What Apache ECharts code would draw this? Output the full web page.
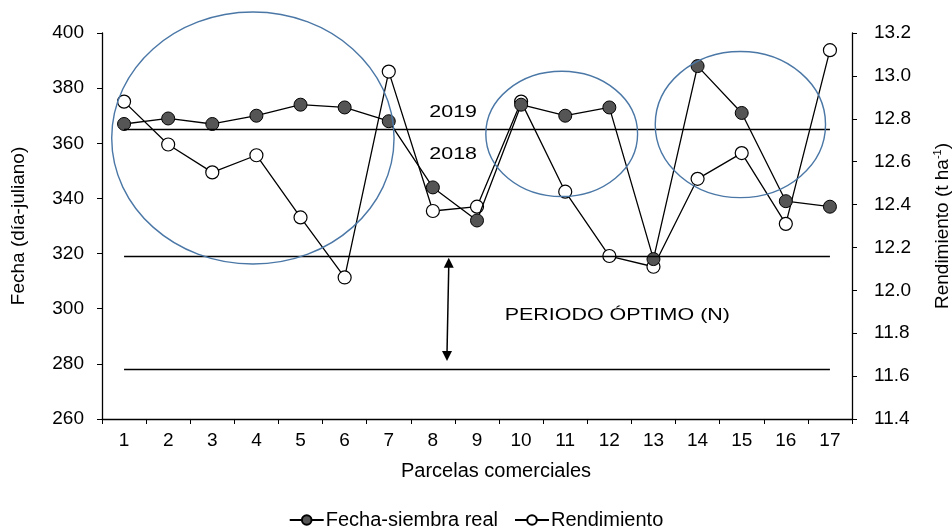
<!DOCTYPE html>
<html>
<head>
<meta charset="utf-8">
<script src="https://cdn.jsdelivr.net/npm/echarts@6/dist/echarts.min.js"></script>
<style>
  html, body { margin: 0; padding: 0; background: #fff; }
  #main { width: 952px; height: 529px; }
</style>
</head>
<body>
<div id="main"></div>
<script>
// datos
const parcelas = ['1', '2', '3', '4', '5', '6', '7', '8', '9', '10', '11', '12', '13', '14', '15', '16', '17'];
const fechaSiembra = [367, 369, 367, 370, 374, 373, 368, 344, 332, 374, 370, 373, 318, 388, 371, 339, 337];
const rendimiento = [12.88, 12.68, 12.55, 12.63, 12.34, 12.06, 13.02, 12.37, 12.39, 12.88, 12.46, 12.16, 12.11, 12.52, 12.64, 12.31, 13.12];
const lineasReferencia = [365, 319, 278];
const etiquetasAnio = ['2019', '2018'];
const textoPeriodo = 'PERIODO ÓPTIMO (N)';

const FONT = 'Liberation Sans, Arial, sans-serif';
const chart = echarts.init(document.getElementById('main'));

const option = {
  animation: false,
  backgroundColor: '#fff',
  textStyle: { fontFamily: FONT, color: '#000' },
  grid: { left: 102, right: 100, top: 33, bottom: 110, containLabel: false, outerBoundsMode: 'none' },
  legend: {
    data: ['Fecha-siembra real', 'Rendimiento'],
    top: 505,
    left: 'center',
    itemWidth: 34,
    itemHeight: 12,
    itemGap: 16,
    textStyle: { fontSize: 20, fontFamily: FONT, color: '#000', padding: [0, 0, 0, -3] }
  },
  xAxis: [
    {
      type: 'category',
      data: parcelas,
      boundaryGap: true,
      name: 'Parcelas comerciales',
      nameLocation: 'middle',
      nameGap: 42,
      nameTextStyle: { fontSize: 20, fontFamily: FONT, color: '#000', padding: [0, 0, 0, 38] },
      axisLine: { lineStyle: { color: '#000', width: 1.3 } },
      axisTick: { show: true, length: 5, inside: false, lineStyle: { color: '#000' } },
      axisLabel: { fontSize: 19, fontFamily: FONT, color: '#000', margin: 12 },
      splitLine: { show: false }
    },
    {
      type: 'value',
      min: 0.5,
      max: 17.5,
      show: false
    }
  ],
  yAxis: [
    {
      type: 'value',
      min: 260,
      max: 400,
      interval: 20,
      position: 'left',
      name: 'Fecha (día-juliano)',
      nameLocation: 'middle',
      nameGap: 74,
      nameTextStyle: { fontSize: 19, fontFamily: FONT, color: '#000' },
      axisLine: { show: true, lineStyle: { color: '#000', width: 1.3 } },
      axisTick: { show: true, length: 5, lineStyle: { color: '#000' } },
      axisLabel: { fontSize: 19, fontFamily: FONT, color: '#000', margin: 18 },
      splitLine: { show: false }
    },
    {
      type: 'value',
      min: 11.4,
      max: 13.2,
      interval: 0.2,
      position: 'right',
      name: 'Rendimiento (t ha{sup|-1})',
      nameLocation: 'middle',
      nameGap: 80,
      nameTextStyle: {
        fontSize: 19, fontFamily: FONT, color: '#000',
        rich: { sup: { fontSize: 11, fontFamily: FONT, color: '#000', verticalAlign: 'top', lineHeight: 22 } }
      },
      axisLine: { show: true, lineStyle: { color: '#000', width: 1.3 } },
      axisTick: { show: true, length: 5, lineStyle: { color: '#000' } },
      axisLabel: { fontSize: 19, fontFamily: FONT, color: '#000', margin: 22, formatter: v => v.toFixed(1) },
      splitLine: { show: false }
    }
  ],
  series: [
    {
      name: 'Rendimiento',
      type: 'line',
      xAxisIndex: 0,
      yAxisIndex: 1,
      data: rendimiento,
      symbol: 'circle',
      symbolSize: 13,
      z: 3,
      lineStyle: { color: '#000', width: 1.3 },
      itemStyle: { color: '#fff', borderColor: '#000', borderWidth: 1.2 }
    },
    {
      name: 'Fecha-siembra real',
      type: 'line',
      xAxisIndex: 0,
      yAxisIndex: 0,
      data: fechaSiembra,
      symbol: 'circle',
      symbolSize: 13,
      z: 4,
      lineStyle: { color: '#000', width: 1.3 },
      itemStyle: { color: '#555', borderColor: '#000', borderWidth: 1 },
      markLine: {
        silent: true,
        symbol: ['none', 'none'],
        label: { show: false },
        lineStyle: { color: '#000', width: 1.3, type: 'solid' },
        data: lineasReferencia.map(v => [
          { coord: [parcelas[0], v] },
          { coord: [parcelas[parcelas.length - 1], v] }
        ])
      }
    }
  ]
};

chart.setOption(option);

// anotaciones (elipses, flecha, textos) en coordenadas de datos
function px(x, y) {
  return chart.convertToPixel({ xAxisIndex: 1, yAxisIndex: 0 }, [x, y]);
}

const elipses = [
  { cx: 3.92, cy: 361.9, rx: 3.2, ry: 45.7 },
  { cx: 10.92, cy: 363.4, rx: 1.72, ry: 22.7 },
  { cx: 14.97, cy: 366.8, rx: 1.93, ry: 26.5 }
];

const graphics = [];
elipses.forEach(e => {
  const c = px(e.cx, e.cy);
  const r1 = px(e.cx + e.rx, e.cy + e.ry);
  graphics.push({
    type: 'ellipse',
    shape: { cx: c[0], cy: c[1], rx: Math.abs(r1[0] - c[0]), ry: Math.abs(r1[1] - c[1]) },
    style: { fill: 'none', stroke: '#4a77a6', lineWidth: 1.4 },
    z: 10
  });
});

// flecha doble del periodo optimo
const aTop = px(8.36, 318.5);
const aBot = px(8.32, 281);
graphics.push({
  type: 'line',
  shape: { x1: aTop[0], y1: aTop[1] + 8, x2: aBot[0], y2: aBot[1] - 8 },
  style: { stroke: '#000', lineWidth: 1.5 },
  z: 10
});
graphics.push({
  type: 'polygon',
  shape: { points: [[aTop[0], aTop[1]], [aTop[0] - 5, aTop[1] + 10], [aTop[0] + 5, aTop[1] + 10]] },
  style: { fill: '#000' },
  z: 10
});
graphics.push({
  type: 'polygon',
  shape: { points: [[aBot[0], aBot[1]], [aBot[0] - 5, aBot[1] - 10], [aBot[0] + 5, aBot[1] - 10]] },
  style: { fill: '#000' },
  z: 10
});

// el texto original aparece estirado en horizontal
const textos = [
  { text: etiquetasAnio[0], x: 8.46, y: 371.3 },
  { text: etiquetasAnio[1], x: 8.46, y: 356.1 },
  { text: textoPeriodo, x: 12.18, y: 297.7 }
];
textos.forEach(t => {
  const p = px(t.x, t.y);
  graphics.push({
    type: 'text',
    x: p[0],
    y: p[1],
    scaleX: 1.3,
    style: {
      text: t.text, fontSize: 16.5, fontFamily: FONT, fill: '#000',
      align: 'center', verticalAlign: 'middle'
    },
    z: 10
  });
});

chart.setOption({ graphic: graphics });
</script>
</body>
</html>
